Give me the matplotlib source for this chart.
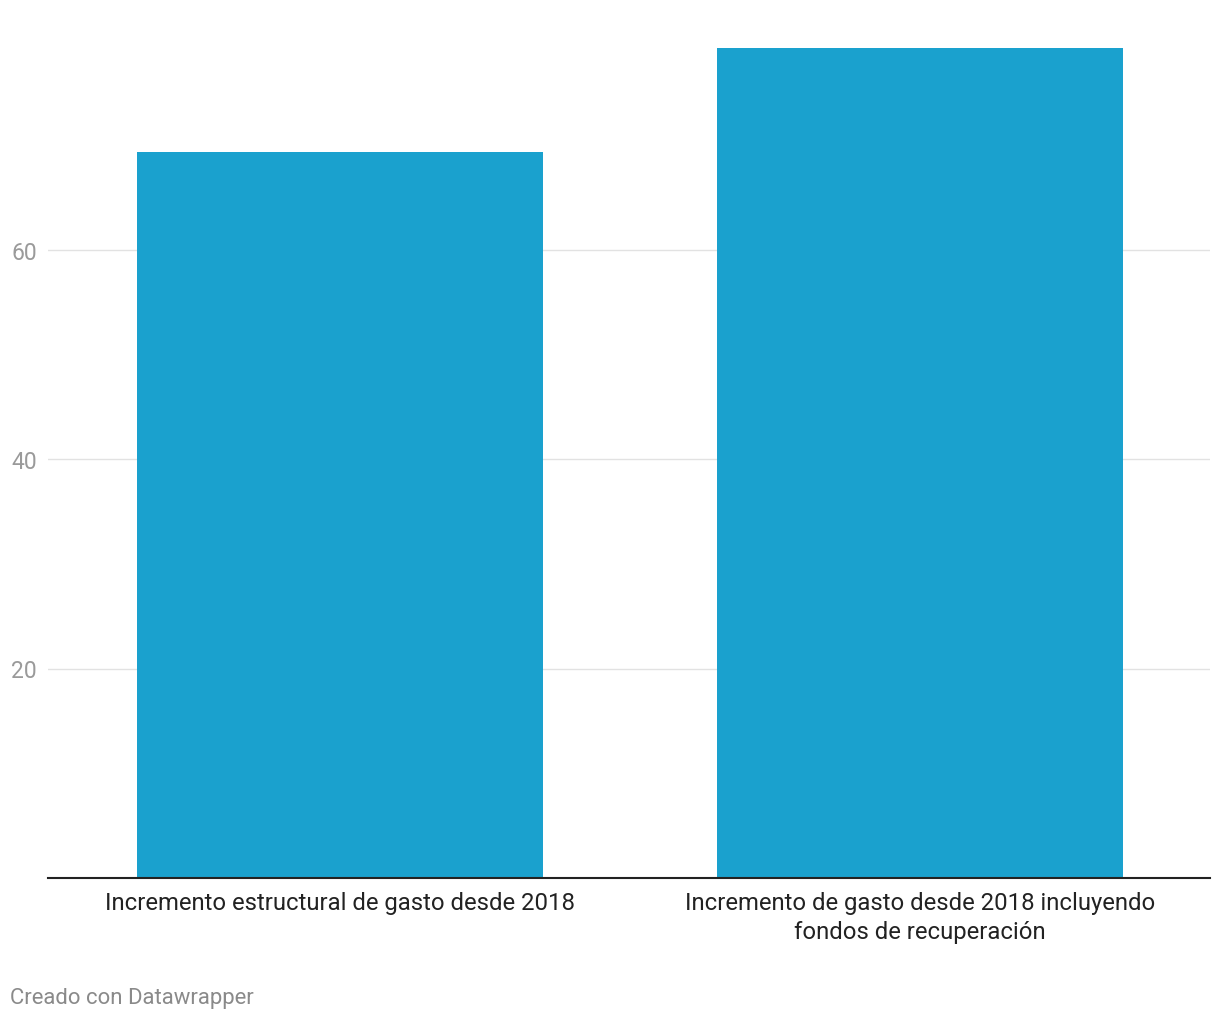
import matplotlib.pyplot as plt

plt.rcParams['font.family'] = ['Roboto', 'DejaVu Sans']

categories = ["Incremento estructural de gasto desde 2018",
              "Incremento de gasto desde 2018 incluyendo\nfondos de recuperación"]
values = [69.3, 79.2]
yticks = [20, 40, 60]

W, H = 1220, 1020
fig = plt.figure(figsize=(W / 100, H / 100), dpi=100)
ax = fig.add_axes([48 / W, 1 - 879 / H, (1210 - 48) / W, (879 - 41) / H])

ax.bar(range(len(values)), values, width=0.7, color='#1aa1ce', zorder=2)
ax.set_xlim(-0.503, 1.5)
ax.set_ylim(0, 80)

ax.set_yticks(yticks)
ax.set_yticklabels([str(t) for t in yticks], color='#9a9a9a', fontsize=16.5)
ax.yaxis.grid(True, color='#e2e2e2', lw=1, zorder=0)
ax.tick_params(axis='y', length=0, pad=8)

ax.set_xticks(range(len(categories)))
ax.set_xticklabels(categories, fontsize=17.2, color='#222222', linespacing=1.32)
ax.tick_params(axis='x', length=0, pad=9.5)

for s in ['top', 'right', 'left']:
    ax.spines[s].set_visible(False)
ax.spines['bottom'].set_color('#222222')
ax.spines['bottom'].set_linewidth(1.5)
ax.spines['bottom'].set_zorder(3)

fig.text(10 / W, 1 - 999 / H, "Creado con Datawrapper", fontsize=15.9,
         color='#8a8a8a', ha='left', va='center')

fig.savefig('out.png', dpi=100, facecolor='white')
